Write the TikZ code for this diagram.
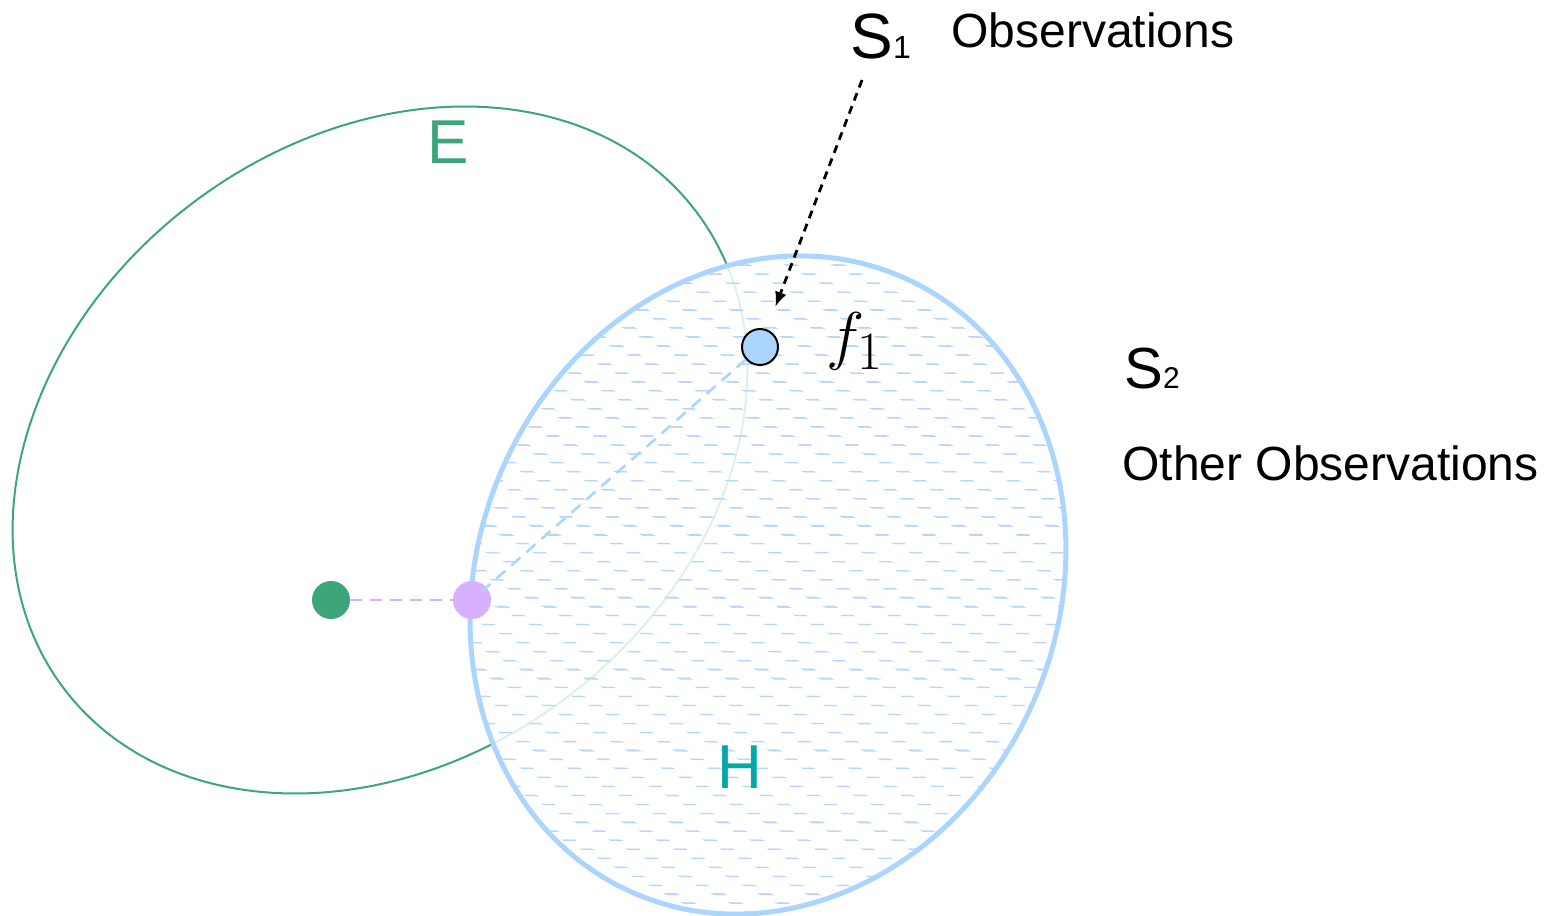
\documentclass[tikz,border=0pt]{standalone}
\usepackage{fontspec}
\setsansfont{Liberation Sans}
\usepackage{xcolor}
\usetikzlibrary{arrows.meta, patterns.meta, positioning}

\definecolor{egreen}{RGB}{61,165,122}
\definecolor{hblue}{RGB}{171,213,255}
\definecolor{hteal}{RGB}{0,168,168}
\definecolor{lilac}{RGB}{216,176,255}
\definecolor{hatchblue}{RGB}{184,214,250}

\tikzdeclarepattern{
  name=obshatch,
  type=uncolored,
  bottom left={(0pt,0pt)},
  top right={(23.5pt,4.5pt)},
  tile size={(23.5pt,4.5pt)},
  tile transformation={xslant=-1.9},
  code={\draw[line width=1pt] (1pt,2.25pt) -- (7.5pt,2.25pt);}
}

\begin{document}
\begin{tikzpicture}[
  x=0.5pt, y=-0.5pt,
  >={Latex[length=7.5pt,width=6pt]},
  dot/.style={circle, minimum size=19pt, inner sep=0pt},
  obs/.style={circle, draw=black, line width=1pt, fill=hblue, minimum size=18pt, inner sep=0pt},
  lbl/.style={font=\sffamily\fontsize{24}{28}\selectfont, inner sep=0pt, anchor=base west},
  setlbl/.style={inner sep=0pt, anchor=base west},
  setname/.style={font=\sffamily\fontsize{31}{36}\selectfont, inner sep=0pt, anchor=base west},
  link/.style={dash pattern=on 6pt off 4pt, line width=1.3pt}
]
  \useasboundingbox (0,0) rectangle (1554,916);

  %---------------- SETS ----------------%
  \coordinate (ecen) at (380,450);
  \coordinate (hcen) at (768,585);

  \draw[egreen, line width=1pt, rotate around={36.9:(ecen)}] (ecen) ellipse [x radius=396, y radius=310];

  \fill[white, fill opacity=0.84, rotate around={66.35:(hcen)}] (hcen) ellipse [x radius=336, y radius=290];
  \draw[draw=hblue, line width=2.5pt, pattern=obshatch, pattern color=hatchblue, rotate around={66.35:(hcen)}] (hcen) ellipse [x radius=336, y radius=290];

  \node[setname, text=egreen] (elbl) at (427,163) {E};
  \node[setname, text=hteal] (hlbl) at (717,788) {H};

  %---------------- POINTS ----------------%
  \node[dot, fill=egreen] (gdot) at (331,600) {};
  \node[dot, fill=lilac] (pdot) at (472,600) {};
  \node[obs] (f1) at (760,347) {};
  \node[anchor=base west, inner sep=0pt, font=\Huge] (f1lbl) at (826,357) {\scalebox{1.3}{$f_1$}};

  \draw[link, lilac] (gdot) -- (pdot);
  \draw[link, hblue, shorten >=6pt] (f1) -- (pdot.center);

  %---------------- OBSERVATIONS ----------------%
  \node[setlbl, font=\sffamily\fontsize{32}{36}\selectfont] (s1) at (850,58) {S{\fontsize{16}{18}\selectfont 1}};
  \node[lbl] (s1txt) at (951,47) {Observations};
  \node[setlbl, font=\sffamily\fontsize{29}{32}\selectfont] (s2) at (1124,388) {S{\fontsize{15}{18}\selectfont 2}};
  \node[lbl] (s2txt) at (1122,480) {Other Observations};

  \coordinate (arrtail) at (862,80);
  \draw[->, dash pattern=on 4pt off 3pt, line width=1.4pt, shorten >=12pt] (arrtail) -- (f1);

\end{tikzpicture}
\end{document}
